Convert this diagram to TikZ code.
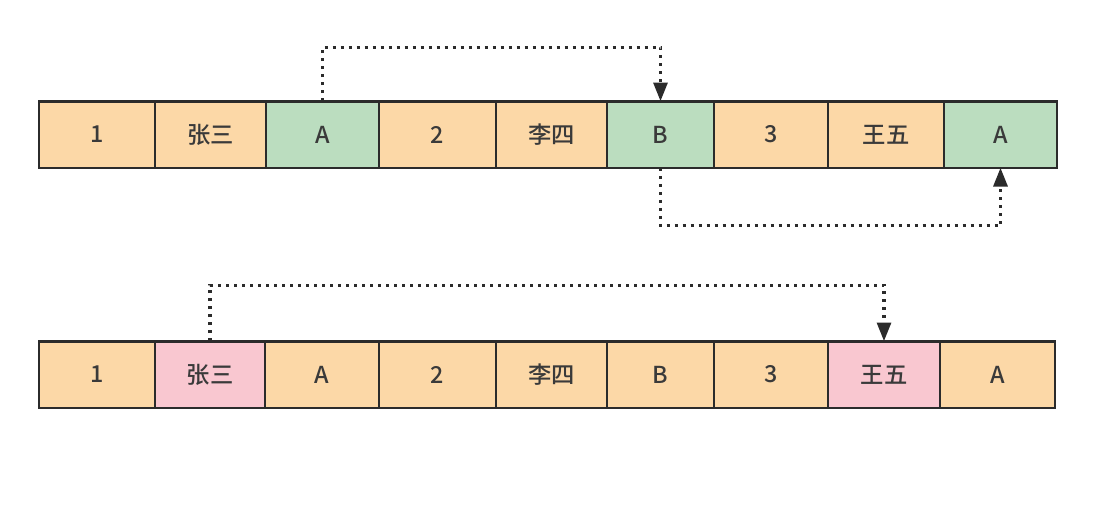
\documentclass[tikz,border=0pt]{standalone}
\usepackage{fontspec}
\newfontfamily\cjk{Noto Sans CJK SC Medium}
\usetikzlibrary{positioning,arrows.meta}
\definecolor{cellorange}{HTML}{FCD8A7}
\definecolor{cellgreen}{HTML}{BBDDBF}
\definecolor{cellpink}{HTML}{F9C7D0}
\definecolor{cellline}{HTML}{2B2B2B}
\definecolor{celltext}{HTML}{3A3A3A}
\tikzset{
  cell/.style={draw=cellline, line width=2pt, minimum height=50pt, inner sep=0pt, outer sep=0pt,
    font=\cjk\fontsize{17.5}{17.5}\selectfont, text=celltext},
  oc/.style={cell, fill=cellorange},
  gc/.style={cell, fill=cellgreen},
  pc/.style={cell, fill=cellpink},
  link/.style={line width=2.3pt, dash pattern=on 2.3pt off 3.7pt, draw=cellline,
    -{Triangle[length=14pt,width=10.5pt]}}
}
\begin{document}
\begin{tikzpicture}[x=0.75pt,y=-0.75pt]
  \useasboundingbox (0,0) rectangle (1093,507);
  \node[oc, minimum width=87pt, anchor=west] (t1) at (39,134.5) {1};
  \node[oc, minimum width=83.25pt, right=0pt of t1] (t2) {张三};
  \node[gc, minimum width=84.75pt, right=0pt of t2] (t3) {A};
  \node[oc, minimum width=87.75pt, right=0pt of t3] (t4) {2};
  \node[oc, minimum width=83.25pt, right=0pt of t4] (t5) {李四};
  \node[gc, minimum width=80.25pt, right=0pt of t5] (t6) {B};
  \node[oc, minimum width=85.5pt, right=0pt of t6] (t7) {3};
  \node[oc, minimum width=87pt, right=0pt of t7] (t8) {王五};
  \node[gc, minimum width=84.75pt, right=0pt of t8] (t9) {A};

  \node[oc, minimum width=87pt, anchor=west] (b1) at (39,374.5) {1};
  \node[pc, minimum width=82.5pt, right=0pt of b1] (b2) {张三};
  \node[oc, minimum width=85.5pt, right=0pt of b2] (b3) {A};
  \node[oc, minimum width=87.75pt, right=0pt of b3] (b4) {2};
  \node[oc, minimum width=83.25pt, right=0pt of b4] (b5) {李四};
  \node[oc, minimum width=80.25pt, right=0pt of b5] (b6) {B};
  \node[oc, minimum width=85.5pt, right=0pt of b6] (b7) {3};
  \node[pc, minimum width=84pt, right=0pt of b7] (b8) {王五};
  \node[oc, minimum width=86.25pt, right=0pt of b8] (b9) {A};

  \draw[link] (t3.north) -- ++(0,-54) -| (t6.north);
  \draw[link] (t6.south) -- ++(0,58) -| (t9.south);
  \draw[link] (b2.north) -- ++(0,-56) -| (b8.north);
\end{tikzpicture}
\end{document}
